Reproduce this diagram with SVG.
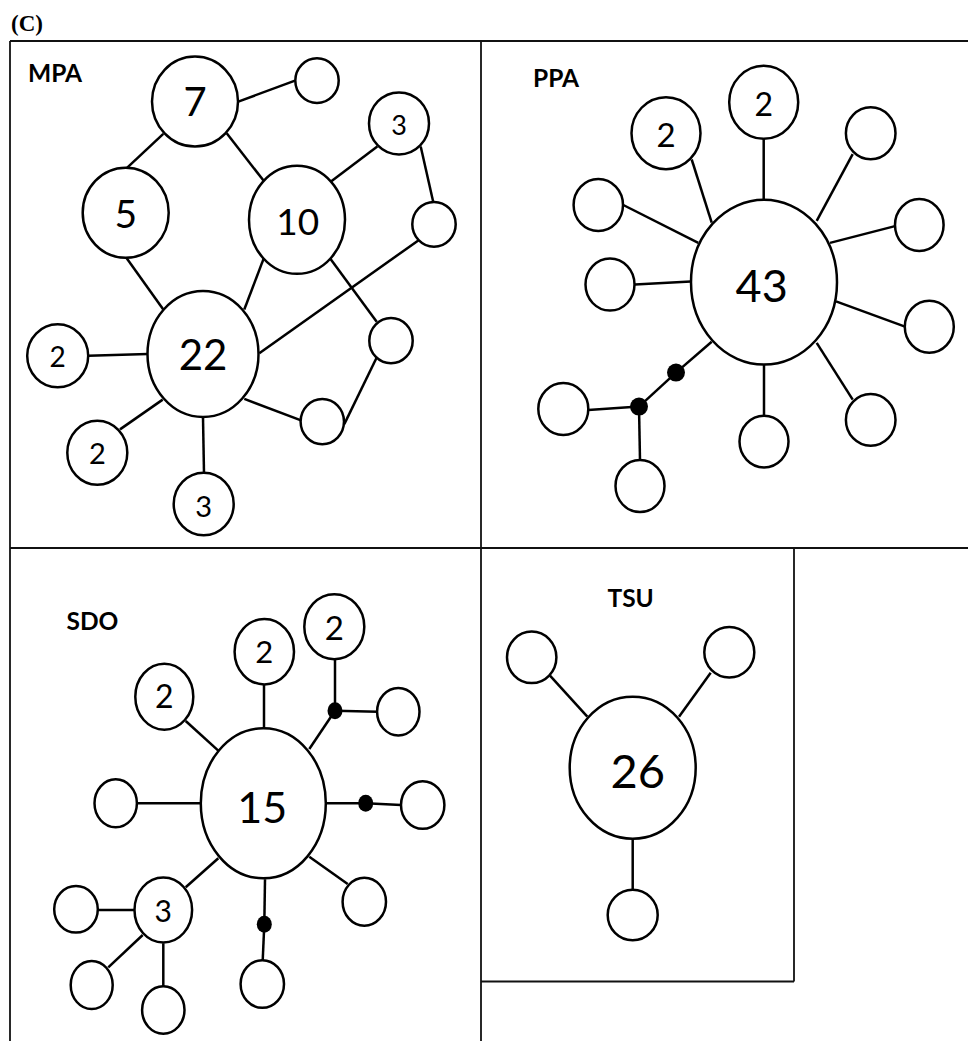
<svg xmlns="http://www.w3.org/2000/svg" width="968" height="1041" viewBox="0 0 968 1041">
<style>
.frame{stroke:#111;stroke-width:1.8;fill:none}
.edge{stroke:#000;stroke-width:2.5;fill:none;stroke-linecap:butt}
.node{fill:#fff;stroke:#000;stroke-width:2.5}
.dot{fill:#000;stroke:none}
.num{font-family:Lato,"Open Sans",sans-serif;fill:#000;text-anchor:middle}
.lbl{font-family:Lato,"Open Sans",sans-serif;font-weight:700;font-size:24.5px;fill:#000}
.title{font-family:"Liberation Serif",serif;font-weight:700;font-size:23px;fill:#000}
</style>
<rect width="968" height="1041" fill="#fff"/>
<text class="title" x="11" y="31">(C)</text>
<g id="frame">
<line class="frame" x1="10" y1="41" x2="968" y2="41"/>
<line class="frame" x1="10" y1="41" x2="10" y2="1041"/>
<line class="frame" x1="481" y1="41" x2="481" y2="1041"/>
<line class="frame" x1="10" y1="548" x2="968" y2="548"/>
<line class="frame" x1="794" y1="548" x2="794" y2="981.5"/>
<line class="frame" x1="481" y1="981.5" x2="794" y2="981.5"/>
</g>
<g id="labels">
<text class="lbl" x="28" y="81.5">MPA</text>
<text class="lbl" x="533" y="86.5">PPA</text>
<text class="lbl" x="66.5" y="629.5">SDO</text>
<text class="lbl" x="607.5" y="607">TSU</text>
</g>
<g id="connectors">
<!-- MPA -->
<line class="edge" x1="238.3" y1="101.6" x2="295" y2="80.6"/>
<line class="edge" x1="163.3" y1="133.9" x2="126.7" y2="168.2"/>
<line class="edge" x1="226.7" y1="133.2" x2="264.3" y2="181.6"/>
<line class="edge" x1="331" y1="181.6" x2="377.3" y2="146.5"/>
<line class="edge" x1="420.7" y1="146.5" x2="433.3" y2="202.2"/>
<line class="edge" x1="126.7" y1="258.3" x2="163.3" y2="309.5"/>
<line class="edge" x1="264.3" y1="256.9" x2="244.3" y2="309.5"/>
<line class="edge" x1="418.3" y1="240.4" x2="259.3" y2="353.3"/>
<line class="edge" x1="330" y1="258.3" x2="376.7" y2="321.8"/>
<line class="edge" x1="376.7" y1="357.5" x2="344.3" y2="424.1"/>
<line class="edge" x1="244.3" y1="398.9" x2="301.7" y2="420.6"/>
<line class="edge" x1="147.7" y1="354" x2="88.3" y2="355.8"/>
<line class="edge" x1="162.7" y1="399.6" x2="120" y2="429.4"/>
<line class="edge" x1="203" y1="417.8" x2="204" y2="473.2"/>
<!-- PPA -->
<line class="edge" x1="763.7" y1="138.4" x2="763.7" y2="199.8"/>
<line class="edge" x1="691.7" y1="159.5" x2="711.7" y2="222.6"/>
<line class="edge" x1="623.3" y1="205" x2="698.3" y2="242.9"/>
<line class="edge" x1="635" y1="284.6" x2="690.7" y2="281.5"/>
<line class="edge" x1="852.7" y1="154.2" x2="816.7" y2="220.8"/>
<line class="edge" x1="895" y1="226.1" x2="830" y2="242.9"/>
<line class="edge" x1="905" y1="326.7" x2="836" y2="301.4"/>
<line class="edge" x1="852.7" y1="399.6" x2="816.7" y2="342.8"/>
<line class="edge" x1="764" y1="364.5" x2="764" y2="416"/>
<line class="edge" x1="711.7" y1="341.7" x2="676" y2="372.6"/>
<line class="edge" x1="676" y1="372.6" x2="639" y2="406.6"/>
<line class="edge" x1="639" y1="406.6" x2="588.3" y2="410"/>
<line class="edge" x1="639" y1="406.6" x2="640" y2="460.2"/>
<!-- SDO -->
<line class="edge" x1="218.3" y1="750.7" x2="185.7" y2="721"/>
<line class="edge" x1="264" y1="729.3" x2="264" y2="684.3"/>
<line class="edge" x1="309.3" y1="749" x2="335" y2="710.7"/>
<line class="edge" x1="335" y1="710.7" x2="335" y2="660"/>
<line class="edge" x1="335" y1="710.7" x2="377.7" y2="711.7"/>
<line class="edge" x1="201" y1="803.3" x2="136.7" y2="803.3"/>
<line class="edge" x1="326" y1="803.3" x2="365.7" y2="803.3"/>
<line class="edge" x1="365.7" y1="803.3" x2="401" y2="805"/>
<line class="edge" x1="309.3" y1="856.7" x2="347.7" y2="884"/>
<line class="edge" x1="265" y1="879.3" x2="264.3" y2="924.3"/>
<line class="edge" x1="264.3" y1="924.3" x2="262.7" y2="960.7"/>
<line class="edge" x1="218.3" y1="858.3" x2="185.7" y2="887.3"/>
<line class="edge" x1="135" y1="910" x2="97.7" y2="910"/>
<line class="edge" x1="142.7" y1="935" x2="108.3" y2="967.3"/>
<line class="edge" x1="163.3" y1="943.3" x2="163.3" y2="986.7"/>
<!-- TSU -->
<line class="edge" x1="550" y1="675.7" x2="587.3" y2="716.7"/>
<line class="edge" x1="710.7" y1="672.7" x2="679" y2="716.7"/>
<line class="edge" x1="632.7" y1="838.3" x2="632.7" y2="889.3"/>
</g>
<g id="mpa-7"><ellipse class="node" cx="195" cy="101.6" rx="43" ry="45"/><text class="num" x="195" y="115.7" font-size="40">7</text></g>
<g id="mpa-a"><ellipse class="node" cx="317" cy="80.6" rx="21.7" ry="22.4"/></g>
<g id="mpa-3a"><ellipse class="node" cx="399" cy="123.4" rx="30" ry="31"/><text class="num" x="399" y="135" font-size="27">3</text></g>
<g id="mpa-5"><ellipse class="node" cx="125.7" cy="212.8" rx="43" ry="45"/><text class="num" x="125.7" y="227.8" font-size="39">5</text></g>
<g id="mpa-10"><ellipse class="node" cx="297" cy="219.8" rx="48" ry="54"/><text class="num" x="297.7" y="235" font-size="37">10</text></g>
<g id="mpa-b"><ellipse class="node" cx="434" cy="224.3" rx="21.7" ry="22.4"/></g>
<g id="mpa-22"><ellipse class="node" cx="203" cy="354" rx="55.5" ry="63"/><text class="num" x="203" y="370" font-size="42">22</text></g>
<g id="mpa-c"><ellipse class="node" cx="391" cy="340.7" rx="21.7" ry="22.6"/></g>
<g id="mpa-d"><ellipse class="node" cx="322.3" cy="421.6" rx="21.7" ry="22.6"/></g>
<g id="mpa-2a"><ellipse class="node" cx="57.7" cy="355.8" rx="30.5" ry="31.5"/><text class="num" x="57.7" y="367.3" font-size="28">2</text></g>
<g id="mpa-2b"><ellipse class="node" cx="97.3" cy="452.8" rx="30" ry="32"/><text class="num" x="97.3" y="464.4" font-size="29">2</text></g>
<g id="mpa-3b"><ellipse class="node" cx="203.7" cy="504" rx="30" ry="31.2"/><text class="num" x="203.7" y="517" font-size="29">3</text></g>

<g id="ppa-43"><ellipse class="node" cx="764" cy="282.2" rx="73" ry="82.4"/><text class="num" x="761.7" y="302" font-size="45">43</text></g>
<g id="ppa-2a"><ellipse class="node" cx="763.7" cy="102.3" rx="34.5" ry="36.5"/><text class="num" x="763.7" y="115.7" font-size="32">2</text></g>
<g id="ppa-2b"><ellipse class="node" cx="666" cy="133.2" rx="34.5" ry="36"/><text class="num" x="666" y="147.2" font-size="33">2</text></g>
<g id="ppa-a"><ellipse class="node" cx="870.7" cy="133.2" rx="24.8" ry="26"/></g>
<g id="ppa-b"><ellipse class="node" cx="598.3" cy="205" rx="24.7" ry="26"/></g>
<g id="ppa-c"><ellipse class="node" cx="919.3" cy="225" rx="24.3" ry="26"/></g>
<g id="ppa-d"><ellipse class="node" cx="610" cy="284.6" rx="24.5" ry="26"/></g>
<g id="ppa-e"><ellipse class="node" cx="929.3" cy="326.7" rx="24.5" ry="26"/></g>
<g id="ppa-f"><ellipse class="node" cx="870.7" cy="419.9" rx="24.8" ry="25.8"/></g>
<g id="ppa-g"><ellipse class="node" cx="764" cy="441.6" rx="24.5" ry="25.8"/></g>
<g id="ppa-h"><ellipse class="node" cx="563.3" cy="409" rx="25" ry="26"/></g>
<g id="ppa-i"><ellipse class="node" cx="640" cy="486.1" rx="24.5" ry="26"/></g>
<g id="ppa-dot1"><circle class="dot" cx="676" cy="372.6" r="9"/></g>
<g id="ppa-dot2"><circle class="dot" cx="639" cy="406.6" r="9"/></g>

<g id="sdo-15"><ellipse class="node" cx="263.3" cy="803.3" rx="62.5" ry="75"/><text class="num" x="262.3" y="822.7" font-size="43">15</text></g>
<g id="sdo-2a"><ellipse class="node" cx="164.3" cy="696.7" rx="29" ry="33"/><text class="num" x="164.3" y="708.3" font-size="32">2</text></g>
<g id="sdo-2b"><ellipse class="node" cx="264.3" cy="651.7" rx="29.7" ry="32.7"/><text class="num" x="264.3" y="663.3" font-size="31">2</text></g>
<g id="sdo-2c"><ellipse class="node" cx="334.3" cy="626.7" rx="30" ry="32.5"/><text class="num" x="334.3" y="640" font-size="33">2</text></g>
<g id="sdo-a"><ellipse class="node" cx="398.3" cy="711.7" rx="21.2" ry="23.7"/></g>
<g id="sdo-b"><ellipse class="node" cx="115.7" cy="803.3" rx="21.2" ry="24"/></g>
<g id="sdo-c"><ellipse class="node" cx="422.7" cy="805" rx="21.7" ry="23.8"/></g>
<g id="sdo-d"><ellipse class="node" cx="364.3" cy="901.7" rx="21.7" ry="24"/></g>
<g id="sdo-3"><ellipse class="node" cx="163.3" cy="910" rx="28.8" ry="32.5"/><text class="num" x="163.3" y="921.7" font-size="30">3</text></g>
<g id="sdo-e"><ellipse class="node" cx="262.3" cy="984" rx="21.7" ry="23.8"/></g>
<g id="sdo-f"><ellipse class="node" cx="76" cy="909.3" rx="21.8" ry="23.3"/></g>
<g id="sdo-g"><ellipse class="node" cx="91.7" cy="985" rx="21" ry="24"/></g>
<g id="sdo-h"><ellipse class="node" cx="163.3" cy="1010" rx="21.2" ry="23.7"/></g>
<g id="sdo-dot1"><ellipse class="dot" cx="335" cy="710.7" rx="7.5" ry="8.5"/></g>
<g id="sdo-dot2"><ellipse class="dot" cx="365.7" cy="803.3" rx="7.5" ry="8.5"/></g>
<g id="sdo-dot3"><ellipse class="dot" cx="264.3" cy="924.3" rx="7.5" ry="8.5"/></g>

<g id="tsu-26"><ellipse class="node" cx="632.7" cy="767.7" rx="63" ry="71"/><text class="num" x="637.7" y="788.3" font-size="47">26</text></g>
<g id="tsu-a"><ellipse class="node" cx="531.7" cy="657.3" rx="24.7" ry="25.8"/></g>
<g id="tsu-b"><ellipse class="node" cx="729.3" cy="652.3" rx="25" ry="25.3"/></g>
<g id="tsu-c"><ellipse class="node" cx="632.7" cy="915" rx="25" ry="25.3"/></g>
</svg>
